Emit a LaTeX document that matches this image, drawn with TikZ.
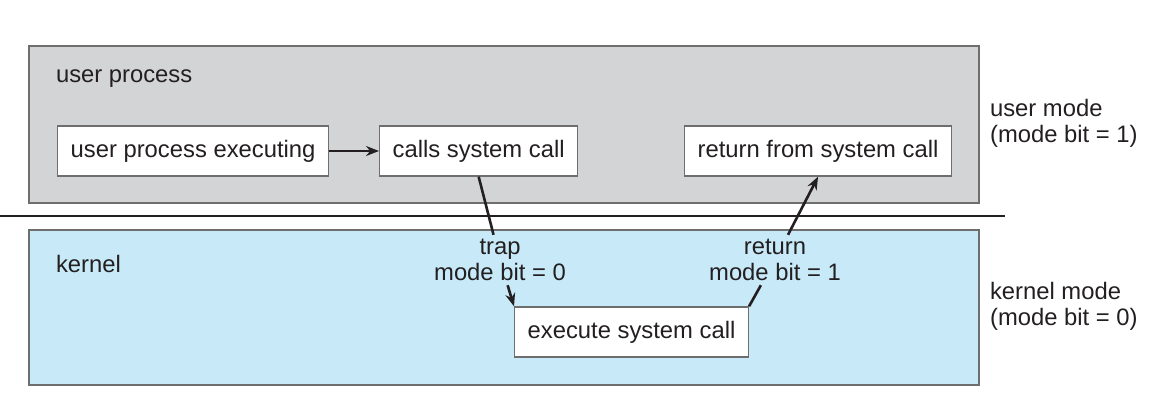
\documentclass[tikz,border=0pt]{standalone}
\usepackage{fontspec}
\setmainfont{Liberation Sans}
\usetikzlibrary{arrows.meta}
\definecolor{usergray}{RGB}{211,212,214}
\definecolor{kernelblue}{RGB}{200,233,248}
\definecolor{framegray}{RGB}{110,110,110}
\definecolor{inkgray}{RGB}{35,31,32}

\begin{document}
\begin{tikzpicture}[x=0.5pt,y=-0.5pt,
      every node/.append style={font=\fontsize{11.9}{13}\selectfont,text=inkgray},
      region/.style={draw=framegray,line width=0.7pt},
      stepbox/.style={draw=framegray,fill=white,line width=0.7pt,minimum height=25pt,inner xsep=6.5pt,inner ysep=0pt},
      modelabel/.style={align=center,inner sep=2pt},
      flow/.style={-{Stealth[length=6.5pt,width=5pt]},line width=1.3pt,draw=inkgray}]
    \useasboundingbox (0,0) rectangle (1171,407);
    \draw [region,fill=usergray] (29,46) rectangle (979,203);
    \draw [region,fill=kernelblue] (29,230) rectangle (979,385);
    \draw [line width=1.3pt,draw=inkgray] (0,216) -- (1005,216);
    % regions
    \node (userproc) [anchor=west] at (49,79) {user process};
    \node (kernel) [anchor=west] at (49,264) {kernel};
    % steps
    \node (executing) [stepbox,anchor=west] at (57,151) {user process executing};
    \node (calls) [stepbox,anchor=west] at (379,151) {calls system call};
    \node (ret) [stepbox,anchor=west] at (684,151) {return from system call};
    \node (exec) [stepbox,anchor=west] at (514,332) {execute system call};
    \node (trap) [modelabel] at (500,260) {trap\\mode bit = 0};
    \node (back) [modelabel] at (775,260) {return\\mode bit = 1};
    \node (usermode) [anchor=west,align=left] at (983,123) {user mode\\(mode bit = 1)};
    \node (kernelmode) [anchor=west,align=left] at (983,306) {kernel mode\\(mode bit = 0)};
    \draw [flow] (executing) -- (calls);
    \draw [line width=1.3pt,draw=inkgray] (calls.south) -- (trap);
    \draw [flow] (trap) -- (exec.north west);
    \draw [line width=1.3pt,draw=inkgray] (exec.north east) -- (back);
    \draw [flow] (back) -- (ret.south);
\end{tikzpicture}
\end{document}
